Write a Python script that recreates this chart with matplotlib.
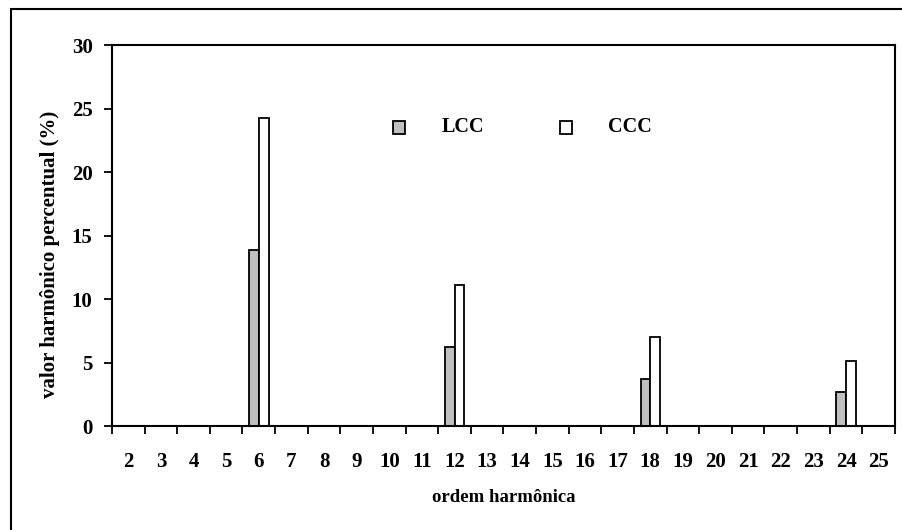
import matplotlib
matplotlib.use("Agg")
import matplotlib.pyplot as plt
from matplotlib.patches import Rectangle
import numpy as np

# harmonic orders and values (%)
ordens = list(range(2, 26))
lcc = [0, 0, 0, 0, 13.9, 0, 0, 0, 0, 0, 6.2, 0, 0, 0, 0, 0, 3.7, 0, 0, 0, 0, 0, 2.7, 0]
ccc = [0, 0, 0, 0, 24.3, 0, 0, 0, 0, 0, 11.1, 0, 0, 0, 0, 0, 7.0, 0, 0, 0, 0, 0, 5.1, 0]
yticks = [0, 5, 10, 15, 20, 25, 30]

plt.rcParams['font.family'] = ['Liberation Serif', 'DejaVu Serif']
plt.rcParams['font.weight'] = 'bold'

fig = plt.figure(figsize=(9.03, 5.30), dpi=100)
fig.patch.set_facecolor('white')

# outer chart border (Excel style)
fig.patches.append(Rectangle((11 / 903, -0.05), 2.0, 1.05 - 9 / 530, transform=fig.transFigure,
                             fill=False, edgecolor='black', linewidth=1.5))

ax = fig.add_axes([112 / 903, (530 - 426) / 530, (895 - 112) / 903, (426 - 45.5) / 530])

x = np.arange(len(ordens))
w = 0.3
ax.bar(x - w / 2, lcc, width=w, color='#c0c0c0', edgecolor='black', linewidth=1.3, label='LCC')
ax.bar(x + w / 2, ccc, width=w, color='white', edgecolor='black', linewidth=1.3, label='CCC')

ax.set_xlim(-0.5, len(ordens) - 0.5)
ax.set_ylim(0, 30)
ax.set_yticks(yticks)
ax.set_xticks(x)
ax.set_xticklabels([str(o) for o in ordens])
ax.set_xticks(np.arange(-0.5, len(ordens), 1), minor=True)
ax.tick_params(axis='x', which='major', length=0, pad=19, labelsize=15)
ax.tick_params(axis='x', which='minor', length=6, width=1.3, direction='out')
ax.tick_params(axis='y', length=6, width=1.3, direction='out', pad=8, labelsize=15)

for s in ax.spines.values():
    s.set_linewidth(1.5)

ax.set_xlabel('ordem harmônica', fontsize=13.5, fontweight='bold', labelpad=12)
ax.set_ylabel('valor harmônico percentual (%)', fontsize=15, fontweight='bold')
ax.yaxis.set_label_coords(-0.067, 0.45)

# legend drawn like the original (square markers + text)
fig.patches.append(Rectangle((393 / 903, 1 - 134 / 530), 12 / 903, 13 / 530, transform=fig.transFigure,
                             facecolor='#c0c0c0', edgecolor='black', linewidth=1.3))
fig.patches.append(Rectangle((560 / 903, 1 - 134 / 530), 12 / 903, 13 / 530, transform=fig.transFigure,
                             facecolor='white', edgecolor='black', linewidth=1.3))
fig.text(442 / 903, 1 - 127 / 530, 'LCC', fontsize=14.5, fontweight='bold', va='center', ha='left')
fig.text(608 / 903, 1 - 127 / 530, 'CCC', fontsize=14.5, fontweight='bold', va='center', ha='left')

fig.savefig('out.png', dpi=100)
